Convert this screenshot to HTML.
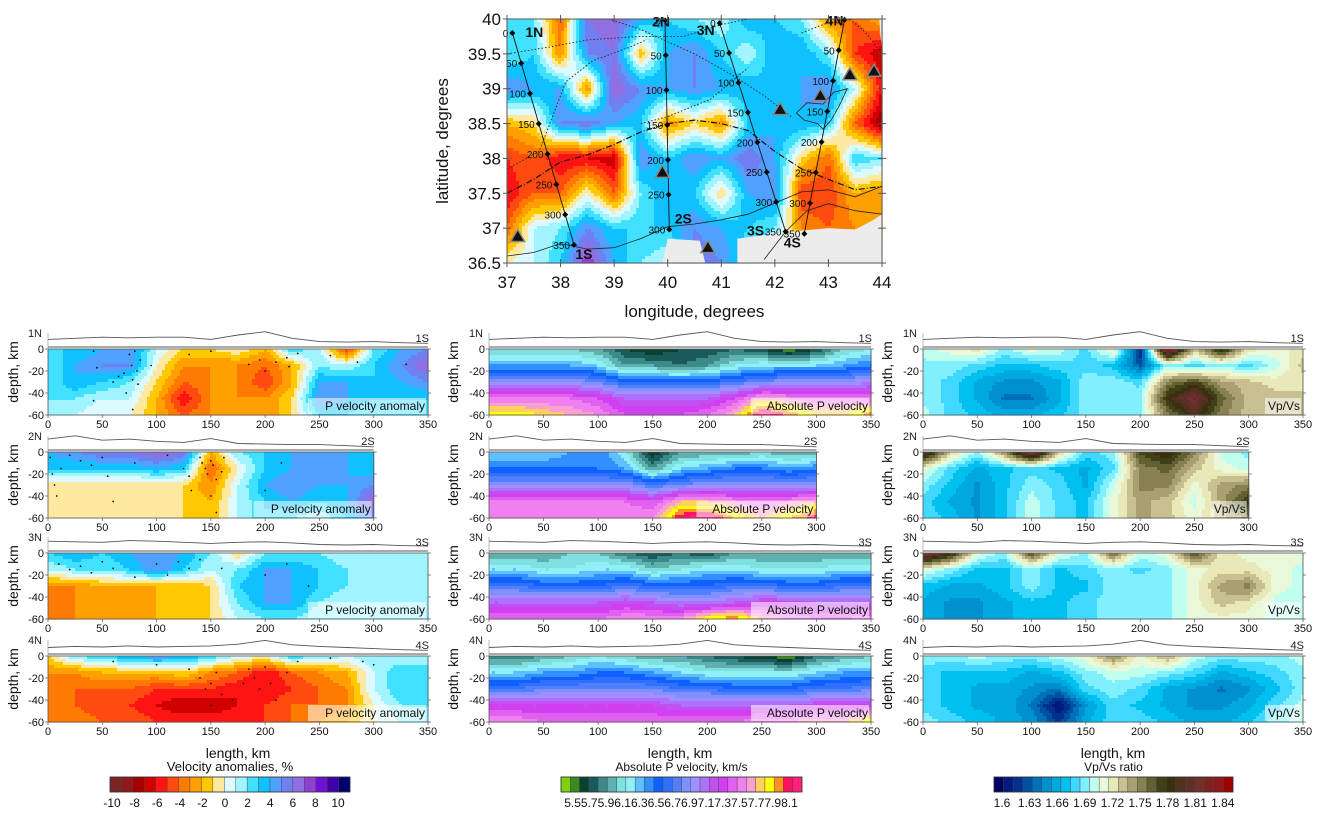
<!DOCTYPE html>
<html><head><meta charset="utf-8">
<style>
html,body{margin:0;padding:0;background:#fff;}
svg{display:block;font-family:"Liberation Sans",Arial,sans-serif;}
</style></head>
<body>
<svg id="fig" width="1320" height="818" viewBox="0 0 1320 818" xmlns="http://www.w3.org/2000/svg"></svg>
<script>
// ---------- DATA ----------
const kmCols350 = [0,25,50,75,100,125,150,175,200,225,250,275,300,325,350];
const kmCols300 = [0,25,50,75,100,125,150,175,200,225,250,275,300];
const depthRows = [0,-15,-30,-45,-60];
const xTicks350 = [0,50,100,150,200,250,300,350];
const xTicks300 = [0,50,100,150,200,250,300];
const yTicks = [0,-20,-40,-60];

// P velocity anomaly (%)
const anom1 = [[3,3,4,5,1,-1,-1,0,-2,3,1,-5,2,4,5],[2,4,5,5,0,-3,-3,-3,-4,-2,2,1,3,5,7],[2,4,3,2,-1,-4,-3,-3,-5,-2,4,4,3,4,5],[2,2,1,1,-2,-6,-3,-3,-3,-1,5,4,3,3,3],[2,1,0,0,-2,-4,-3,-3,-3,-1,3,3,2,2,2]];
const anom2 = [[4,5,6,6,7,6,-2,2,3,4,5,4,3],[3,3,3,3,4,3,-4,0,3,4,4,4,3],[-1,-1,-1,-1,-1,-1,-3,1,4,5,4,4,5],[-1,-1,-1,-1,-1,-1,-2,1,3,4,3,4,7],[-1,-1,-1,-1,-1,-1,-2,1,3,2,1,3,5]];
const anom3 = [[3,4,3,4,5,4,2,-1,2,2,2,1,1,1,2],[1,2,2,3,5,3,1,2,4,4,3,2,1,1,2],[-3,-3,-2,-2,-2,-2,-1,3,4,4,3,2,1,1,2],[-4,-3,-3,-3,-2,-2,-1,2,4,4,2,1,1,1,1],[-3,-3,-3,-3,-2,-2,-1,1,2,2,1,1,1,1,1]];
const anom4 = [[-1,2,3,4,5,4,3,1,0,3,2,1,2,1,2],[-3,-3,-2,-2,-2,-1,-3,-4,-6,-4,-3,-2,1,3,2],[-4,-4,-4,-4,-5,-5,-5,-6,-6,-5,-4,-3,1,3,2],[-4,-4,-5,-5,-6,-7,-7,-6,-5,-4,-4,-3,0,2,2],[-3,-3,-4,-4,-5,-5,-5,-5,-5,-4,-3,-2,0,1,1]];
// Absolute P velocity (km/s)
const vp1 = [[6.1,6.1,6.1,6.1,6.0,5.8,5.7,5.8,5.8,5.9,5.8,5.6,5.8,6.1,6.2],[6.4,6.4,6.4,6.4,6.3,6.0,6.0,5.9,6.0,6.2,6.3,6.3,6.3,6.4,6.5],[6.9,6.9,6.9,6.9,6.8,6.6,6.6,6.6,6.6,6.7,6.8,6.9,6.9,6.9,7.0],[7.4,7.4,7.4,7.4,7.3,7.1,7.1,7.1,7.1,7.3,7.6,7.5,7.4,7.4,7.4],[7.8,7.8,7.7,7.6,7.5,7.3,7.3,7.3,7.4,7.6,8.1,7.9,7.7,7.7,7.9]];
const vp2 = [[6.3,6.3,6.3,6.4,6.5,6.2,5.7,6.0,6.0,6.0,6.1,6.0,6.0],[6.5,6.5,6.5,6.5,6.5,6.4,6.0,6.3,6.4,6.5,6.5,6.4,6.5],[6.9,6.9,6.9,6.9,6.9,6.9,6.7,6.8,6.9,6.9,6.9,6.9,6.9],[7.4,7.4,7.4,7.4,7.4,7.4,7.3,7.6,7.6,7.5,7.4,7.5,7.6],[7.5,7.5,7.5,7.5,7.5,7.5,7.5,8.0,8.1,7.8,7.6,7.8,8.0]];
const vp3 = [[6.0,6.0,6.0,6.1,6.1,5.9,5.8,5.9,5.8,6.0,6.0,6.0,6.0,6.0,6.0],[6.3,6.3,6.2,6.2,6.3,6.3,6.1,6.2,6.3,6.3,6.2,6.2,6.2,6.3,6.3],[6.7,6.7,6.6,6.6,6.6,6.7,6.6,6.6,6.6,6.7,6.7,6.6,6.6,6.7,6.7],[7.1,7.1,7.1,7.1,7.1,7.2,7.1,7.0,7.0,7.1,7.2,7.2,7.1,7.1,7.1],[7.4,7.4,7.4,7.4,7.4,7.5,7.5,7.5,7.8,7.9,7.6,7.5,7.4,7.4,7.5]];
const vp4 = [[5.9,5.9,6.0,6.1,6.2,6.1,6.0,6.0,5.9,5.8,5.7,5.6,5.9,6.0,6.1],[6.3,6.3,6.4,6.4,6.5,6.5,6.4,6.3,6.2,6.2,6.2,6.2,6.3,6.4,6.4],[6.7,6.7,6.8,6.8,6.8,6.8,6.8,6.7,6.7,6.6,6.6,6.6,6.7,6.7,6.8],[7.2,7.2,7.2,7.2,7.2,7.2,7.2,7.1,7.1,7.1,7.1,7.1,7.2,7.2,7.2],[7.5,7.5,7.4,7.4,7.4,7.4,7.4,7.4,7.4,7.4,7.5,7.5,7.6,7.6,7.8]];
// Vp/Vs ratio
const vs1 = [[1.71,1.72,1.73,1.70,1.72,1.71,1.69,1.73,1.62,1.86,1.74,1.80,1.73,1.72,1.73],[1.70,1.70,1.69,1.68,1.68,1.69,1.69,1.68,1.64,1.70,1.69,1.70,1.69,1.71,1.74],[1.70,1.69,1.67,1.66,1.66,1.67,1.70,1.70,1.69,1.76,1.78,1.75,1.74,1.73,1.73],[1.70,1.69,1.67,1.65,1.65,1.67,1.70,1.70,1.70,1.79,1.83,1.77,1.74,1.74,1.74],[1.71,1.69,1.68,1.67,1.67,1.68,1.70,1.70,1.70,1.76,1.80,1.76,1.74,1.74,1.74]];
const vs2 = [[1.82,1.74,1.70,1.76,1.84,1.74,1.69,1.70,1.78,1.80,1.76,1.71,1.70],[1.72,1.69,1.67,1.68,1.69,1.68,1.67,1.69,1.76,1.77,1.74,1.72,1.71],[1.70,1.68,1.66,1.68,1.70,1.69,1.67,1.71,1.76,1.76,1.72,1.75,1.76],[1.69,1.67,1.66,1.68,1.71,1.69,1.68,1.72,1.75,1.74,1.71,1.75,1.79],[1.69,1.68,1.66,1.68,1.71,1.69,1.68,1.72,1.75,1.74,1.72,1.74,1.76]];
const vs3 = [[1.84,1.80,1.72,1.70,1.78,1.72,1.70,1.77,1.71,1.72,1.78,1.73,1.72,1.72,1.72],[1.72,1.70,1.68,1.68,1.70,1.68,1.69,1.70,1.69,1.70,1.72,1.73,1.73,1.72,1.71],[1.68,1.67,1.67,1.68,1.70,1.68,1.68,1.70,1.70,1.70,1.72,1.75,1.76,1.72,1.71],[1.67,1.66,1.66,1.67,1.68,1.68,1.69,1.70,1.70,1.70,1.72,1.74,1.73,1.71,1.71],[1.67,1.66,1.66,1.67,1.68,1.68,1.69,1.70,1.70,1.70,1.72,1.72,1.72,1.71,1.71]];
const vs4 = [[1.70,1.70,1.71,1.70,1.70,1.71,1.72,1.76,1.72,1.75,1.71,1.70,1.70,1.70,1.71],[1.69,1.68,1.68,1.68,1.67,1.68,1.70,1.71,1.71,1.70,1.69,1.67,1.68,1.69,1.70],[1.69,1.68,1.67,1.67,1.66,1.65,1.69,1.70,1.69,1.67,1.66,1.65,1.66,1.68,1.70],[1.69,1.68,1.67,1.67,1.65,1.61,1.66,1.69,1.68,1.67,1.66,1.66,1.67,1.69,1.71],[1.70,1.69,1.68,1.67,1.66,1.63,1.67,1.69,1.69,1.68,1.67,1.67,1.68,1.70,1.71]];
// Topography along profiles (relative units, every 25 km)
const topo1 = [1.2,1.4,1.6,1.5,1.6,1.6,1.2,2.0,2.6,1.4,0.8,0.7,0.8,0.6,0.5];
const topo2 = [1.8,2.4,1.6,1.8,1.4,1.2,1.9,1.0,0.9,0.8,0.8,0.6,0.4];
const topo3 = [1.6,1.5,1.4,1.7,1.6,1.4,1.2,1.4,1.5,1.3,1.0,0.9,1.0,0.8,0.7];
const topo4 = [1.0,1.2,1.1,1.3,1.1,1.2,1.3,1.6,2.3,1.5,1.2,1.0,0.8,0.6,0.5];
// Earthquake hypocentres [km, depth]
const eq1 = [[42,-2],[45,-17],[42,-47],[60,-30],[65,-25],[70,-22],[75,-5],[77,-15],[78,-28],[80,-2],[82,-20],[83,-32],[85,-10],[72,-40],[78,-55],[95,-15],[130,-5],[150,-2],[185,-14],[195,-10],[200,-20],[210,-12],[220,-8],[222,-16],[230,-4],[260,-6],[285,-12],[330,-14]];
const eq2 = [[2,-5],[4,-20],[6,-30],[8,-40],[12,-15],[20,-3],[30,-8],[40,-12],[50,-5],[55,-22],[60,-45],[80,-10],[110,-3],[125,-15],[130,-22],[132,-35],[140,-5],[142,-10],[145,-15],[147,-20],[150,-8],[152,-12],[155,-25],[160,-18],[162,-5],[150,-40],[155,-55],[200,-35],[215,-10]];
const eq3 = [[10,-10],[20,-15],[30,-12],[40,-18],[50,-8],[60,-14],[80,-22],[100,-10],[110,-20],[120,-8],[130,-14],[140,-6],[160,-14],[200,-20],[220,-10],[240,-30]];
const eq4 = [[60,-5],[100,-8],[130,-12],[140,-20],[145,-30],[150,-25],[150,-45],[155,-15],[160,-35],[170,-40],[180,-25],[185,-12],[190,-20],[195,-30],[200,-10],[205,-25],[210,-40],[220,-15],[230,-5],[260,-2],[290,-5],[300,-8]];
// Map anomaly grid: lons 37..44 step .5, lats 40..36.5 step .5
const mapLons = [37,37.5,38,38.5,39,39.5,40,40.5,41,41.5,42,42.5,43,43.5,44];
const mapLats = [40,39.5,39,38.5,38,37.5,37,36.5];
const mapVals = [[3,2,-4,6,7,4,3,2,1,4,3,2,-3,-4,-2],[2,3,-3,5,6,-2,4,5,3,1,4,4,2,-5,-7],[5,4,4,-3,7,5,4,5,4,4,3,4,5,1,-6],[-2,-1,5,6,4,3,-3,-1,-3,3,4,4,3,-4,-8],[-5,-4,-6,-6,-7,5,3,5,4,6,4,-1,-4,3,2],[-6,-4,-4,0,-4,2,4,3,-1,4,5,-5,-5,-2,-3],[-4,1,2,5,3,3,3,5,4,3,2,-3,-4,-3,-3],[0,1,3,8,4,2,1,6,5,2,0,0,0,0,0]];
const latTicks = [40,39.5,39,38.5,38,37.5,37,36.5];
const lonTicks = [37,38,39,40,41,42,43,44];
const volcanoes = [[37.2,36.88],[39.9,37.8],[40.75,36.72],[42.1,38.7],[42.85,38.9],[43.4,39.2],[43.85,39.25]];
const profNames = ['1','2','3','4'];
const profN = [[37.1,39.8],[39.95,39.98],[40.97,39.94],[43.3,39.99]];
const profS = [[38.25,36.76],[40.03,36.98],[42.2,36.95],[42.55,36.92]];
const profLen = [350,300,350,350];

const anomColors = ['#7a2424','#8e1a1a','#a40000','#d00000','#ff1414','#ff4a10','#ff7a00','#ffa000','#ffc800','#ffe8a0','#dcfaff','#a0f4ff','#40e0ff','#10c0ff','#50a0ff','#7080f0','#9070e0','#9040d0','#7010d0','#4000a8','#000070'];
const vpColors = ['#80d010','#3a8a20','#0a4030','#1a5a5a','#3a8a8a','#60b0b0','#80e0e0','#90f0f8','#60c0ff','#3090ff','#1060ff','#3070ff','#5080ff','#8090ff','#a090ff','#b070ff','#c050f0','#d040f0','#e060f0','#f080f0','#f8a0d0','#ffd060','#ffff00','#ff9020','#ff1060','#ff2080'];
const vsColors = ['#000060','#001a80','#003090','#0050a0','#0070b8','#0090d0','#00a8e0','#00c0f0','#40d8ff','#80f0ff','#c0fff0','#e8f8d8','#e8e8b8','#c8c090','#a8a070','#888050','#606030','#404018','#3a3010','#503020','#603028','#703030','#802020','#901818','#a00000'];

// ---------- HELPERS ----------
const NS='http://www.w3.org/2000/svg';
const svg=document.getElementById('fig');
function mk(tag,attrs,parent){const e=document.createElementNS(NS,tag);for(const k in attrs)e.setAttribute(k,attrs[k]);(parent||svg).appendChild(e);return e;}
function txt(s,x,y,size,anchor,parent,extra){const t=mk('text',Object.assign({x:x,y:y,'font-size':size,'text-anchor':anchor||'middle',fill:'#111'},extra||{}),parent);t.textContent=s;return t;}
function bilinear(grid,fx,fy){const ny=grid.length,nx=grid[0].length;fx=Math.max(0,Math.min(nx-1,fx));fy=Math.max(0,Math.min(ny-1,fy));const i=Math.min(nx-2,Math.floor(fx)),j=Math.min(ny-2,Math.floor(fy));const tx=fx-i,ty=fy-j;return grid[j][i]*(1-tx)*(1-ty)+grid[j][i+1]*tx*(1-ty)+grid[j+1][i]*(1-tx)*ty+grid[j+1][i+1]*tx*ty;}
function colorIdx(v,lo,hi,n){return Math.max(0,Math.min(n-1,Math.floor((v-lo)/(hi-lo)*n)));}
function field(g,grid,px,py,w,h,cs,lo,hi,cols,name){
  const nx=grid[0].length,ny=grid.length;
  const ncol=Math.ceil(w/cs);
  for(let y=0;y<h;y+=cs){
    const hh=Math.min(cs,h-y);
    let runStart=0,runC=null;
    for(let i=0;i<=ncol;i++){
      const x=Math.min(i*cs,w);
      let c=null;
      if(i<ncol){const v=bilinear(grid,(x+cs/2)/w*(nx-1),(y+hh/2)/h*(ny-1));c=cols[colorIdx(v,lo,hi,cols.length)];}
      if(c!==runC||i===ncol){
        if(runC!==null){const r=mk('rect',{x:(px+runStart).toFixed(1),y:py+y,width:(x-runStart+0.6).toFixed(1),height:hh+0.6,fill:runC},g);
          
          }
        runStart=x;runC=c;}
    }
  }
}

// ---------- SECTION PANELS ----------
const colX=[[48,428],[489,871],[923,1303]];
const rowY=[349,452,553,656];
const PH=66;
const grids=[[anom1,anom2,anom3,anom4],[vp1,vp2,vp3,vp4],[vs1,vs2,vs3,vs4]];
const ranges=[[-10,11,anomColors],[5.5,8.1,vpColors],[1.6,1.86,vsColors]];
const topos=[topo1,topo2,topo3,topo4];
const eqs=[eq1,eq2,eq3,eq4];
const labels=['P velocity anomaly','Absolute P velocity','Vp/Vs'];
const ylabX=[18,458,892];
const kinds=['anomaly','vp','vpvs'];

for(let c=0;c<3;c++){
  const kmPx=(colX[c][1]-colX[c][0])/350;
  for(let r=0;r<4;r++){
    const g=mk('g',{});
    
    
    const len=profLen[r];
    const x0=colX[c][0],y0=rowY[r],w=len*kmPx;
    field(g,grids[c][r],x0,y0,w,PH,3,ranges[c][0],ranges[c][1],ranges[c][2],'field-cell');
    mk('rect',{x:x0,y:y0,width:w,height:PH,fill:'none',stroke:'#555','stroke-width':0.8},g);
    // topography
    const tp=topos[r];
    let d='';tp.forEach((v,i)=>{const xx=x0+i*25*kmPx;const yy=y0-3-v*5.5;d+=(i?'L':'M')+xx.toFixed(1)+','+yy.toFixed(1);});
    const tl=mk('path',{d:d,fill:'none',stroke:'#555','stroke-width':0.9},g);
    
    
    mk('line',{x1:x0,y1:y0-2,x2:x0+w,y2:y0-2,stroke:'#555','stroke-width':0.9},g);
    mk('line',{x1:x0,y1:y0-16,x2:x0,y2:y0,stroke:'#888','stroke-width':0.6},g);
    txt(profNames[r]+'N',x0-6,y0-12,11,'end',g,{fill:'#222'});
    txt(profNames[r]+'S',x0+w+1,y0-7,11,'end',g,{fill:'#222'});
    // y ticks
    yTicks.forEach(v=>{const yy=y0+(-v)/60*PH;
      mk('line',{x1:x0-3,y1:yy,x2:x0,y2:yy,stroke:'#555','stroke-width':0.7},g);
      mk('line',{x1:x0+w,y1:yy,x2:x0+w+3,y2:yy,stroke:'#555','stroke-width':0.7},g);
      txt(String(v),x0-4,yy+4,11,'end',g);});
    // x ticks
    (len===300?xTicks300:xTicks350).forEach(v=>{const xx=x0+v*kmPx;
      mk('line',{x1:xx,y1:y0+PH,x2:xx,y2:y0+PH+3,stroke:'#555','stroke-width':0.7},g);
      txt(String(v),xx,y0+PH+13,11,'middle',g);});
    const yl=txt('depth, km',ylabX[c],y0+PH/2-10,14,'middle',g,{transform:'rotate(-90 '+ylabX[c]+' '+(y0+PH/2-10)+')'});
    
    
    // earthquakes
    if(c===0){eqs[r].forEach(p=>{const dot=mk('circle',{cx:x0+p[0]*kmPx,cy:y0+(-p[1])/60*PH,r:0.9,fill:'#111'},g);
      
      });}
    // label
    const lw=c===2?36:118;
    mk('rect',{x:x0+w-lw-2,y:y0+PH-17,width:lw,height:16,fill:'rgba(255,255,255,0.55)'},g);
    const lt=txt(labels[c],x0+w-3,y0+PH-5,12,'end',g,{fill:'#111'});
    
    
  }
  const xl=txt('length, km',(colX[c][0]+colX[c][1])/2,758,14,'middle');
  
  
}

// ---------- COLORBARS ----------
const cbars=[[110,350,'Velocity anomalies, %',anomColors],[561,802,'Absolute P velocity, km/s',vpColors],[994,1233,'Vp/Vs ratio',vsColors]];
cbars.forEach((cb,k)=>{
  const g=mk('g',{});
  
  
  const n=cb[3].length,bw=(cb[1]-cb[0])/n;
  cb[3].forEach((col,i)=>{mk('rect',{x:cb[0]+i*bw,y:777,width:bw,height:15,fill:col,stroke:'#444','stroke-width':0.4},g);});
  mk('rect',{x:cb[0],y:777,width:cb[1]-cb[0],height:15,fill:'none',stroke:'#333','stroke-width':0.8},g);
  txt(cb[2],(cb[0]+cb[1])/2,771,k===0?13:12,'middle',g);
});
const anomLabels=[-10,-8,-6,-4,-2,0,2,4,6,8,10];
anomLabels.forEach(v=>txt(String(v),112+(v+10)/20*226,807,12,'middle'));
txt('5.55.75.96.16.36.56.76.97.17.37.57.77.98.1',681,807,12,'middle');
const vsLabels=['1.6','1.63','1.66','1.69','1.72','1.75','1.78','1.81','1.84'];
vsLabels.forEach((s,i)=>txt(s,1002+i*27.6,807,12,'middle'));

// ---------- MAP ----------
const MX0=507,MX1=882,MY0=19,MY1=263;
const lonX=lon=>MX0+(lon-37)/7*(MX1-MX0);
const latY=lat=>MY0+(40-lat)/3.5*(MY1-MY0);
const mg=mk('g',{});


field(mg,mapVals,MX0,MY0,MX1-MX0,MY1-MY0,3,-10,11,anomColors,'map-cell');
// no-data area
const nd=mk('path',{d:'M'+lonX(41.3)+','+MY1+' L'+lonX(41.3)+','+latY(36.85)+' L'+lonX(41.8)+','+latY(36.9)+' L'+lonX(42.3)+','+latY(36.95)+' L'+lonX(43)+','+latY(37.0)+' L'+lonX(43.5)+','+latY(36.98)+' L'+lonX(43.8)+','+latY(37.1)+' L'+lonX(44)+','+latY(37.2)+' L'+MX1+','+MY1+' Z',fill:'#ececec'},mg);


mk('path',{d:'M'+lonX(43.95)+','+MY0+' L'+MX1+','+MY0+' L'+MX1+','+latY(39.6)+' L'+lonX(43.97)+','+latY(39.75)+' Z',fill:'#ececec'},mg);
mk('path',{d:'M'+lonX(39.9)+','+MY1+' L'+lonX(40.0)+','+latY(36.85)+' L'+lonX(40.6)+','+latY(36.82)+' L'+lonX(40.7)+','+MY1+' Z',fill:'#ececec'},mg);
// coastline / borders
function poly(pts,attrs,name){let d='';pts.forEach((p,i)=>{d+=(i?'L':'M')+lonX(p[0]).toFixed(1)+','+latY(p[1]).toFixed(1);});const e=mk('path',Object.assign({d:d,fill:'none'},attrs),mg);return e;}
poly([[37,36.6],[37.5,36.65],[38,36.78],[38.5,36.7],[39,36.72],[39.5,36.85],[40,37.02],[40.5,37.06],[41,37.12],[41.5,37.2],[42,37.36],[42.5,37.52],[43,37.55],[43.5,37.45],[44,37.6]],{stroke:'#222','stroke-width':0.8},'border-line');
poly([[41.8,36.55],[42.2,36.95],[42.6,37.25],[43,37.35],[43.5,37.25],[44,37.2]],{stroke:'#222','stroke-width':0.8},'border-line');
poly([[37,37.5],[37.5,37.7],[38,37.95],[38.5,38.05],[39,38.2],[39.5,38.38],[40,38.5],[40.5,38.55],[41,38.5],[41.5,38.4],[42,38.1],[42.5,37.85],[43,37.7],[43.5,37.55],[44,37.6]],{stroke:'#111','stroke-width':1.2,'stroke-dasharray':'6 2 1 2'},'thrust-fault');
poly([[37,39.5],[37.8,39.6],[38.5,39.7],[39.5,39.75],[40.3,39.75],[41,39.92],[41.5,40]],{stroke:'#222','stroke-width':0.9,'stroke-dasharray':'1.5 2'},'fault-line');
poly([[38.9,40],[39.5,39.85],[40.5,39.5],[41.2,39.2],[41.8,38.9],[42.3,38.6]],{stroke:'#222','stroke-width':0.9,'stroke-dasharray':'1.5 2'},'fault-line');
poly([[37,37.85],[37.6,38.1],[38.1,39.1],[38.6,39.4],[39.3,39.6],[39.6,39.7]],{stroke:'#222','stroke-width':0.9,'stroke-dasharray':'1.5 2'},'fault-line');
poly([[39.5,38.5],[40,38.6],[40.8,38.85],[41.5,39.3]],{stroke:'#222','stroke-width':0.9,'stroke-dasharray':'1.5 2'},'fault-line');
poly([[42.5,39.8],[43,39.95],[43.5,40]],{stroke:'#222','stroke-width':0.9,'stroke-dasharray':'1.5 2'},'fault-line');
poly([[43.4,40],[43.7,39.8],[44,39.5]],{stroke:'#222','stroke-width':0.9,'stroke-dasharray':'1.5 2'},'fault-line');
poly([[42.4,38.65],[42.6,38.8],[42.9,38.78],[43.1,38.95],[43.35,39.0],[43.2,38.75],[43.05,38.55],[42.9,38.42],[42.8,38.5],[42.55,38.55],[42.4,38.65]],{stroke:'#222','stroke-width':0.8},'lake-van');
// profiles
for(let p=0;p<4;p++){
  const a=profN[p],b=profS[p];
  poly([a,b],{stroke:'#111','stroke-width':0.9},'profile-line-'+profNames[p]);
  const L=profLen[p];
  for(let km=0;km<=L;km+=50){
    const t=km/L,lon=a[0]+(b[0]-a[0])*t,lat=a[1]+(b[1]-a[1])*t;
    const cx=lonX(lon),cy=latY(lat);
    const m=mk('path',{d:'M'+cx+','+(cy-3)+'L'+(cx+3)+','+cy+'L'+cx+','+(cy+3)+'L'+(cx-3)+','+cy+'Z',fill:'#000'},mg);
    
    
    txt(String(km),cx-4,cy+4,10,'end',mg,{fill:'#111'});
  }
  txt(profNames[p]+'N',lonX(a[0])+(p===0?22:(p===1?-4:(p===2?-14:-10))),latY(a[1])+(p===2?12:(p===0?4:6)),14,'middle',mg,{'font-weight':'bold'});
  txt(profNames[p]+'S',lonX(b[0])+(p===0?10:(p===1?14:(p===2?-30:-12))),latY(b[1])+(p===0?14:(p===1?-6:(p===2?4:14))),14,'middle',mg,{'font-weight':'bold'});
}
// volcanoes
volcanoes.forEach(v=>{const cx=lonX(v[0]),cy=latY(v[1]);
  const t=mk('path',{d:'M'+cx+','+(cy-7)+'L'+(cx+7)+','+(cy+5)+'L'+(cx-7)+','+(cy+5)+'Z',fill:'#111',stroke:'#888','stroke-width':1.5},mg);
  
  });
mk('rect',{x:MX0,y:MY0,width:MX1-MX0,height:MY1-MY0,fill:'none',stroke:'#555','stroke-width':1},mg);
latTicks.forEach(v=>{const yy=latY(v);
  mk('line',{x1:MX0-4,y1:yy,x2:MX0+4,y2:yy,stroke:'#555'},mg);
  mk('line',{x1:MX1-4,y1:yy,x2:MX1+4,y2:yy,stroke:'#555'},mg);
  txt(String(v),MX0-6,yy+6,17,'end',mg);});
lonTicks.forEach(v=>{const xx=lonX(v);
  mk('line',{x1:xx,y1:MY1-4,x2:xx,y2:MY1+4,stroke:'#555'},mg);
  mk('line',{x1:xx,y1:MY0-4,x2:xx,y2:MY0+4,stroke:'#555'},mg);
  txt(String(v),xx,MY1+25,17,'middle',mg);});
const mxl=txt('longitude, degrees',(MX0+MX1)/2,317,17,'middle');


const myl=txt('latitude, degrees',448,141,17,'middle',null,{transform:'rotate(-90 448 141)'});


</script>
</body></html>
